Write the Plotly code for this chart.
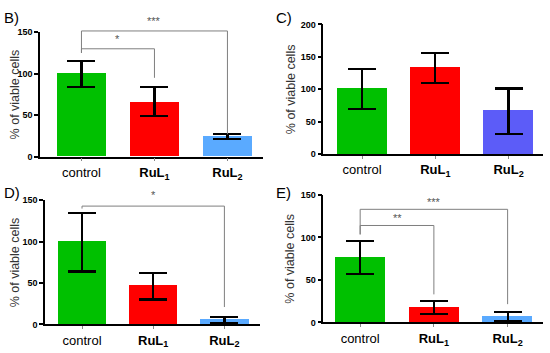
import plotly.graph_objects as go

W, H = 550, 353
categories = ["control", "<b>RuL<sub>1</sub></b>", "<b>RuL<sub>2</sub></b>"]

# panel B
b_mean = [100, 66, 25]
b_hi = [115, 84, 27.5]
b_lo = [84, 48.5, 21.5]
# panel C
c_mean = [101, 134, 67]
c_hi = [131, 155.5, 101]
c_lo = [69, 110, 30.5]
# panel D
d_mean = [100, 47, 6.5]
d_hi = [135, 62.5, 9]
d_lo = [64, 30, 2]
# panel E
e_mean = [77, 18.5, 8]
e_hi = [96, 25.5, 12.5]
e_lo = [57, 9.5, 1.5]

# significance brackets: (cat_a, cat_b, height, left_end, right_end, label, label_y)
b_sig = [(0, 1, 130, 125, 95, "*", 142), (0, 2, 151.5, 125, 27, "***", 163)]
d_sig = [(0, 2, 143, 140, 21, "*", 156)]
e_sig = [(0, 1, 114, 103.5, 33, "**", 123), (0, 2, 133, 103.5, 21.5, "***", 142)]

green, red, lblue, pblue = "#00c000", "#ff0000", "#5aaaff", "#5c5cf8"

panels = [
    dict(letter="B)", m=b_mean, hi=b_hi, lo=b_lo, col=[green, red, lblue], sig=b_sig,
         xd=(40, 263), xr=(-0.568, 2.487), y0=156, ppu=128 / 150, ymax=150, ytall=172,
         ticks=[0, 50, 100, 150], lx=2, ly=13, tx=15),
    dict(letter="C)", m=c_mean, hi=c_hi, lo=c_lo, col=[green, red, pblue], sig=[],
         xd=(323.3, 543), xr=(-0.53, 2.47), y0=153.3, ppu=133.3 / 200, ymax=200, ytall=200,
         ticks=[0, 50, 100, 150, 200], lx=274, ly=13, tx=291),
    dict(letter="D)", m=d_mean, hi=d_hi, lo=d_lo, col=[green, red, lblue], sig=d_sig,
         xd=(45, 260), xr=(-0.52, 2.5), y0=328.7, ppu=127.7 / 150, ymax=150, ytall=166,
         ticks=[0, 50, 100, 150], lx=2, ly=193, tx=15),
    dict(letter="E)", m=e_mean, hi=e_hi, lo=e_lo, col=[green, red, lblue], sig=e_sig,
         xd=(323.3, 543), xr=(-0.5, 2.48), y0=326.7, ppu=131.3 / 150, ymax=150, ytall=150,
         ticks=[0, 50, 100, 150], lx=274, ly=193, tx=290),
]

fig = go.Figure()
FONT = "Arial, Liberation Sans, sans-serif"
annotations = []
layout = {}

for i, p in enumerate(panels):
    n = i + 1
    xa = "x" if n == 1 else f"x{n}"
    ya = "y" if n == 1 else f"y{n}"
    xt = f"x{n + 4}"
    yt = f"y{n + 4}"
    xdom = [p["xd"][0] / W, p["xd"][1] / W]
    ydom = [1 - p["y0"] / H, 1 - (p["y0"] - p["ymax"] * p["ppu"]) / H]
    ytdom = [1 - p["y0"] / H, 1 - (p["y0"] - p["ytall"] * p["ppu"]) / H]

    xs = list(range(len(categories)))
    fig.add_trace(go.Bar(
        x=xs, y=p["m"], width=0.68, marker=dict(color=p["col"], line=dict(width=0)),
        error_y=dict(type="data", symmetric=False,
                     array=[h - m for h, m in zip(p["hi"], p["m"])],
                     arrayminus=[m - l for m, l in zip(p["m"], p["lo"])],
                     color="black", thickness=2.2, width=14),
        xaxis=xa, yaxis=ya, showlegend=False, hoverinfo="skip"))

    for (a, b, h, le, re, lab, laby) in p["sig"]:
        fig.add_trace(go.Scatter(
            x=[a, a, b, b], y=[le, h, h, re], mode="lines",
            line=dict(color="#7f7f7f", width=1), xaxis=xt, yaxis=yt,
            showlegend=False, hoverinfo="skip"))
        annotations.append(dict(x=(a + b) / 2, y=laby,
                                xref=xt, yref=yt, text=lab, showarrow=False,
                                font=dict(family=FONT, size=11, color="#555555")))

    axkey = "xaxis" if n == 1 else f"xaxis{n}"
    aykey = "yaxis" if n == 1 else f"yaxis{n}"
    layout[axkey] = dict(domain=xdom, range=list(p["xr"]), anchor=ya,
                         tickvals=xs, ticktext=categories, showline=True,
                         linecolor="black", linewidth=1.5, ticks="outside",
                         ticklen=3, tickcolor="#888888", tickwidth=1,
                         showgrid=False, zeroline=False,
                         tickfont=dict(family=FONT, size=13, color="black"))
    layout[aykey] = dict(domain=ydom, range=[0, p["ymax"]], anchor=xa,
                         tickvals=p["ticks"], showline=True, linecolor="black",
                         linewidth=1.5, ticks="outside", ticklen=4, tickwidth=1.5,
                         tickcolor="black", showgrid=False, zeroline=False,
                         tickfont=dict(family=FONT, size=9, color="black", weight="bold"))
    layout[f"xaxis{n + 4}"] = dict(domain=xdom, range=list(p["xr"]), anchor=yt,
                                   visible=False, showgrid=False, zeroline=False)
    layout[f"yaxis{n + 4}"] = dict(domain=ytdom, range=[0, p["ytall"]], anchor=xt,
                                   visible=False, showgrid=False, zeroline=False)

    annotations.append(dict(x=p["lx"] / W, y=1 - p["ly"] / H, xref="paper", yref="paper",
                            text=p["letter"], showarrow=False, xanchor="left",
                            yanchor="middle", font=dict(family=FONT, size=15, color="black")))
    ymid = (ydom[0] + ydom[1]) / 2
    annotations.append(dict(x=p["tx"] / W, y=ymid, xref="paper", yref="paper",
                            text="% of viable cells", textangle=-90, showarrow=False,
                            xanchor="center", yanchor="middle",
                            font=dict(family=FONT, size=12.5, color="#333333")))

fig.update_layout(width=W, height=H, margin=dict(l=0, r=0, t=0, b=0),
                  paper_bgcolor="white", plot_bgcolor="rgba(0,0,0,0)",
                  annotations=annotations, bargap=0, **layout)
fig.write_html("out.html", config={"displayModeBar": False},
               post_script="document.body.style.margin='0';")
